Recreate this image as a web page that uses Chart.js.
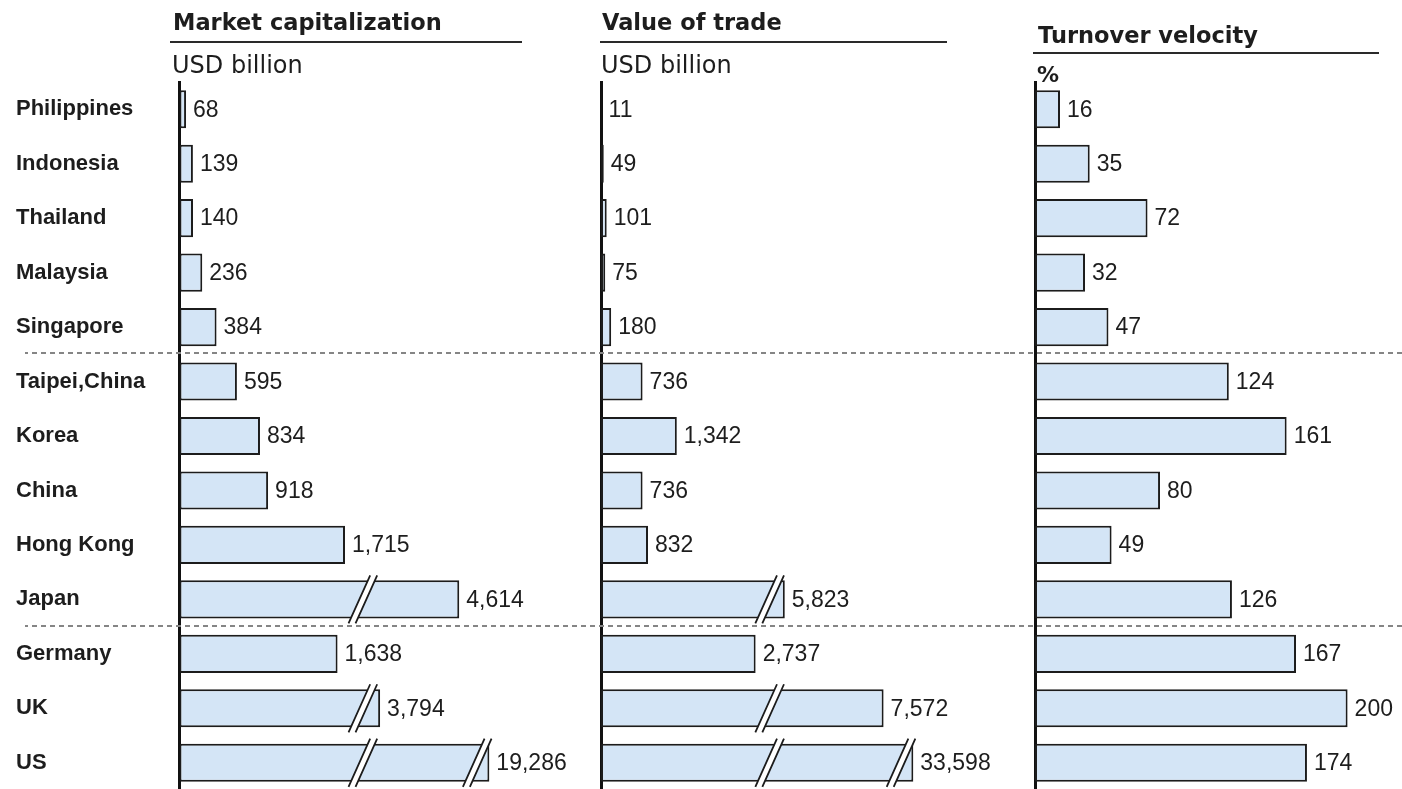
<!DOCTYPE html>
<html>
<head>
<meta charset="utf-8">
<title>Stock market size and activity</title>
<script src="https://cdn.jsdelivr.net/npm/chart.js@4.4.1/dist/chart.umd.min.js"></script>
<style>
  html, body { margin: 0; padding: 0; background: #fff; width: 1402px; height: 789px; overflow: hidden; }
  canvas { position: absolute; top: 0; }
</style>
</head>
<body>
<canvas id="capChart" width="590" height="830" style="left:0px"></canvas>
<canvas id="tradeChart" width="420" height="830" style="left:590px"></canvas>
<canvas id="turnChart" width="392" height="830" style="left:1010px"></canvas>
<script>
// ---- data ----
const markets = ['Philippines', 'Indonesia', 'Thailand', 'Malaysia', 'Singapore',
                 'Taipei,China', 'Korea', 'China', 'Hong Kong', 'Japan',
                 'Germany', 'UK', 'US'];
const marketCap  = [68, 139, 140, 236, 384, 595, 834, 918, 1715, 4614, 1638, 3794, 19286];   // USD billion
const tradeValue = [11, 49, 101, 75, 180, 736, 1342, 736, 832, 5823, 2737, 7572, 33598];     // USD billion
const turnover   = [16, 35, 72, 32, 47, 124, 161, 80, 49, 126, 167, 200, 174];               // %
// value ranges left out of each broken axis ([from, to], USD billion)
const capBreaks   = [[1900, 3615], [4800, 19160]];
const tradeBreaks = [[2985, 5555], [7880, 33380]];
// last row of each regional group; a dotted rule follows it
const groupEnds = [4, 9];

// ---- styles ----
const INK = '#1d1d1d';
const BAR_FILL = '#d4e5f6';
const BAR_EDGE = '#1c1c1c';
const RULE = '#858585';

// remove the skipped ranges so a value lands on the broken axis
function squeeze(v, breaks) {
  let out = v;
  for (const [a, b] of breaks) {
    if (v >= b) out -= (b - a);
    else if (v > a) out -= (v - a);
  }
  return out;
}

function registerBrokenScale(id, breaks) {
  class BrokenScale extends Chart.LinearScale {
    getPixelForValue(value) {
      return super.getPixelForValue(squeeze(value, breaks));
    }
  }
  BrokenScale.id = id;
  BrokenScale.defaults = Chart.LinearScale.defaults;
  Chart.register(BrokenScale);
  return id;
}

function drawBreakMark(ctx, x, yTop, yBot) {
  const ext = 5, lean = 0.45, gap = 7;
  const y0 = yBot + ext, y1 = yTop - ext;
  const dx = lean * (y0 - y1) / 2;
  ctx.save();
  ctx.beginPath();
  ctx.moveTo(x - gap / 2 - dx, y0);
  ctx.lineTo(x - gap / 2 + dx, y1);
  ctx.lineTo(x + gap / 2 + dx, y1);
  ctx.lineTo(x + gap / 2 - dx, y0);
  ctx.closePath();
  ctx.fillStyle = '#fff';
  ctx.fill();
  ctx.strokeStyle = BAR_EDGE;
  ctx.lineWidth = 1.8;
  ctx.beginPath();
  ctx.moveTo(x - gap / 2 - dx, y0); ctx.lineTo(x - gap / 2 + dx, y1);
  ctx.moveTo(x + gap / 2 - dx, y0); ctx.lineTo(x + gap / 2 + dx, y1);
  ctx.stroke();
  ctx.restore();
}

const panels = [
  { id: 'capChart', left: 0, title: 'Market capitalization', unit: 'USD billion', unitBold: false,
    values: marketCap, breaks: capBreaks, axisX: 179.5, pxPerUnit: 0.0965,
    titleX: 173, titleY: 30, unitY: 72.5, ruleFrom: 170, ruleTo: 522, ruleY: 42,
    showNames: true, sepFrom: 25 },
  { id: 'tradeChart', left: 590, title: 'Value of trade', unit: 'USD billion', unitBold: false,
    values: tradeValue, breaks: tradeBreaks, axisX: 601, pxPerUnit: 0.0565,
    titleX: 602, titleY: 30, unitY: 72.5, ruleFrom: 600, ruleTo: 947, ruleY: 42,
    showNames: false, sepFrom: 590 },
  { id: 'turnChart', left: 1010, title: 'Turnover velocity', unit: '%', unitBold: true,
    values: turnover, breaks: [], axisX: 1035, pxPerUnit: 1.563,
    titleX: 1038, titleY: 43, unitY: 82, ruleFrom: 1033, ruleTo: 1379, ruleY: 53,
    showNames: false, sepFrom: 1010 }
];

function panelDecor(p) {
  return {
    id: 'panelDecor',
    beforeDatasetsDraw(chart) {
      const ctx = chart.ctx, ys = chart.scales.y;
      ctx.save();
      ctx.strokeStyle = RULE;
      ctx.lineWidth = 2;
      ctx.setLineDash([5, 4]);
      ctx.lineDashOffset = p.left - p.sepFrom;
      for (const g of groupEnds) {
        const y = Math.round((ys.getPixelForValue(g) + ys.getPixelForValue(g + 1)) / 2) - 1;
        ctx.beginPath();
        ctx.moveTo(p.sepFrom - p.left, y);
        ctx.lineTo(chart.width, y);
        ctx.stroke();
      }
      ctx.restore();
    },
    afterDatasetsDraw(chart) {
      const ctx = chart.ctx, xs = chart.scales.x;
      const bars = chart.getDatasetMeta(0).data;
      // axis break marks on bars that run past a break
      for (const [a] of p.breaks) {
        const bx = xs.getPixelForValue(a);
        p.values.forEach((v, i) => {
          if (v > a) {
            const b = bars[i];
            drawBreakMark(ctx, bx, b.y - b.height / 2, b.y + b.height / 2);
          }
        });
      }
      // value labels
      ctx.save();
      ctx.fillStyle = INK;
      ctx.font = '23px "Liberation Sans"';
      ctx.textAlign = 'left';
      ctx.textBaseline = 'middle';
      p.values.forEach((v, i) => {
        const b = bars[i];
        ctx.fillText(v.toLocaleString('en-US'), b.x + 7, b.y + 1);
      });
      ctx.restore();
      // heading, rule and unit
      ctx.save();
      ctx.fillStyle = INK;
      ctx.textBaseline = 'alphabetic';
      ctx.textAlign = 'left';
      ctx.font = 'bold 22.5px "DejaVu Sans"';
      ctx.fillText(p.title, p.titleX - p.left, p.titleY);
      ctx.font = (p.unitBold ? 'bold 22px' : '24px') + ' "DejaVu Sans"';
      ctx.fillText(p.unit, p.titleX - p.left - 1, p.unitY);
      ctx.strokeStyle = '#2a2a2a';
      ctx.lineWidth = 2;
      ctx.beginPath();
      ctx.moveTo(p.ruleFrom - p.left, p.ruleY);
      ctx.lineTo(p.ruleTo - p.left, p.ruleY);
      ctx.stroke();
      ctx.restore();
    }
  };
}

function makePanel(p) {
  const canvas = document.getElementById(p.id);
  const W = canvas.width;
  const localAxis = p.axisX - p.left;
  const padLeft = p.showNames ? 16 : localAxis;
  const yAxisWidth = p.showNames ? localAxis - 16 : 0;
  const areaRight = W - 10;
  const span = (areaRight - localAxis) / p.pxPerUnit;
  const scaleType = p.breaks.length ? registerBrokenScale(p.id + 'Axis', p.breaks) : 'linear';
  return new Chart(canvas, {
    type: 'bar',
    data: {
      labels: markets,
      datasets: [{
        data: p.values,
        backgroundColor: BAR_FILL,
        borderColor: BAR_EDGE,
        borderWidth: 2,
        borderSkipped: false,
        barPercentage: 0.7,
        categoryPercentage: 1
      }]
    },
    options: {
      indexAxis: 'y',
      responsive: false,
      animation: false,
      devicePixelRatio: 1,
      layout: { padding: { left: padLeft, right: 10, top: 82, bottom: 40 } },
      plugins: { legend: { display: false }, tooltip: { enabled: false } },
      scales: {
        x: { type: scaleType, display: false, min: 0, max: span },
        y: {
          type: 'category',
          grid: { display: false, drawTicks: false },
          border: { display: true, color: '#111', width: 3 },
          ticks: {
            display: p.showNames,
            crossAlign: 'far',
            padding: 0,
            color: INK,
            font: { family: 'Liberation Sans', size: 22, weight: 'bold' }
          },
          afterFit: s => { s.width = yAxisWidth; }
        }
      }
    },
    plugins: [panelDecor(p)]
  });
}

panels.forEach(makePanel);
</script>
</body>
</html>
